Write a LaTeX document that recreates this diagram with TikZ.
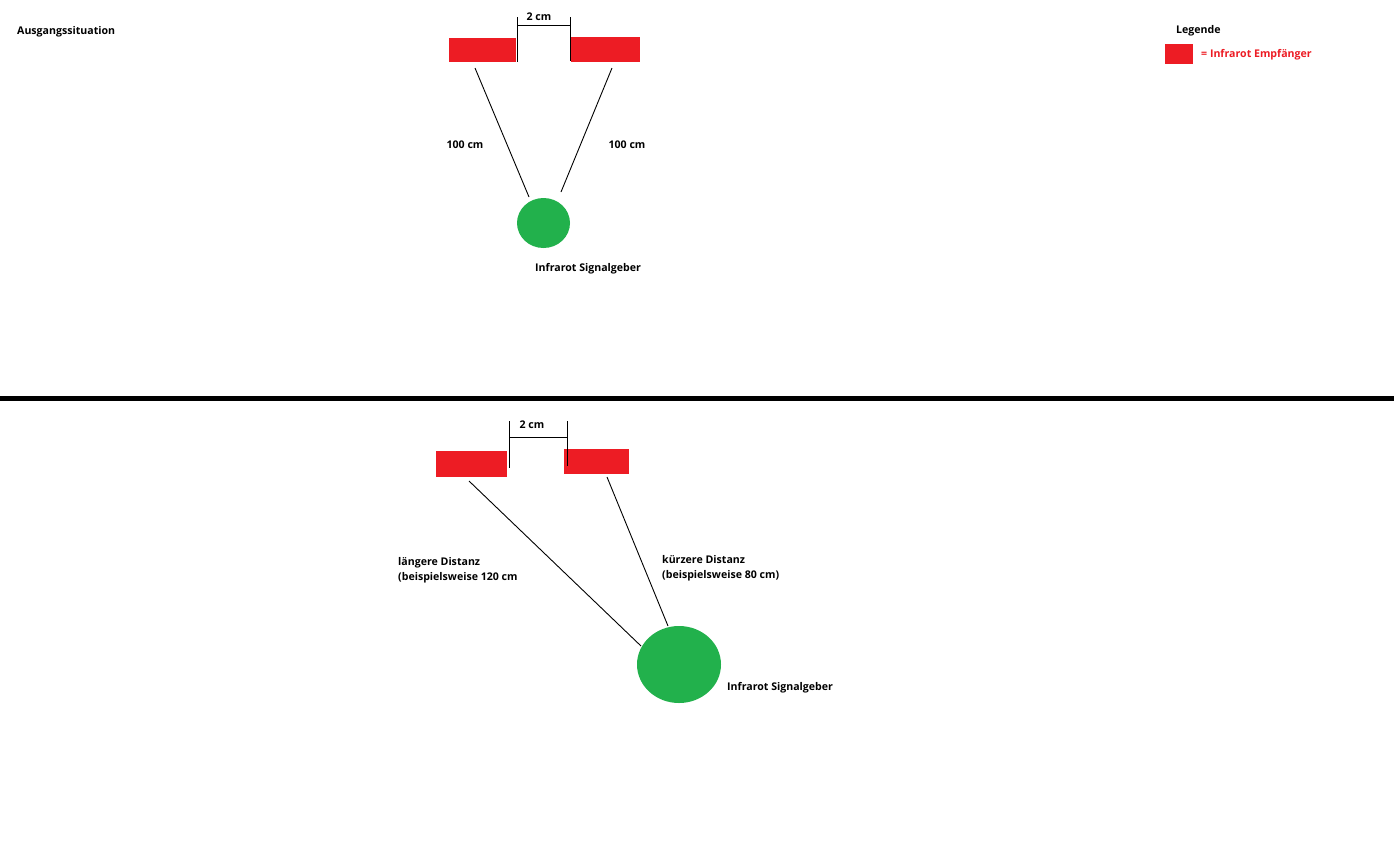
\documentclass[tikz,border=0pt]{standalone}
\usepackage{fontspec}
\setmainfont{Open Sans}
\usetikzlibrary{shapes.geometric}
\definecolor{pred}{HTML}{ED1C24}
\definecolor{pgreen}{HTML}{22B14C}
\tikzset{
  recv/.style={fill=pred, draw=none, inner sep=0, rectangle},
  sender/.style={fill=pgreen, draw=none, inner sep=0, ellipse},
  lbl/.style={inner sep=0, yshift=-1.5pt, font=\fontsize{10.6}{15}\selectfont\bfseries, text=black},
  conn/.style={draw=black, line width=0.9pt},
  dim/.style={draw=black, line width=1pt},
}
\begin{document}
\begin{tikzpicture}[x=1pt,y=-1pt]
\useasboundingbox (0,0) rectangle (1394,844);
\fill[white] (0,0) rectangle (1394,844);

% headings
\node[lbl, anchor=west] (title) at (17,30) {Ausgangssituation};
\node[lbl, anchor=west] (leg) at (1176,29) {Legende};
\node[recv, minimum width=28pt, minimum height=20pt] (legbox) at (1179,54) {};
\node[lbl, anchor=west, text=pred] (legtxt) at (1201,53) {= Infrarot Empfänger};

% ===== top scene =====
\node[recv, minimum width=67pt, minimum height=24pt] (tl) at (482.5,50) {};
\node[recv, minimum width=69pt, minimum height=25pt] (tr) at (605.5,49.5) {};
\node[sender, minimum width=53pt, minimum height=50pt] (ts) at (543.5,223) {};
\node[lbl, anchor=west] (tslbl) at (535,267) {Infrarot Signalgeber};

\coordinate (tdl1) at (517,17); \coordinate (tdl2) at (517,62);
\coordinate (tdr1) at (570,17); \coordinate (tdr2) at (570,61);
\coordinate (tdh1) at (517,25); \coordinate (tdh2) at (570,25);
\draw[dim] (tdl1) -- (tdl2);
\draw[dim] (tdr1) -- (tdr2);
\draw[dim] (tdh1) -- (tdh2);
\node[lbl] (tdim) at (539,15) {2 cm};

\coordinate (tla) at (475,68); \coordinate (tlb) at (529,197);
\coordinate (tra) at (612,68); \coordinate (trb) at (561,192);
\draw[conn] (tla) -- (tlb);
\draw[conn] (tra) -- (trb);
\node[lbl] (tld) at (465,143) {100 cm};
\node[lbl] (trd) at (627,143) {100 cm};

% separator
\coordinate (sepa) at (0,398); \coordinate (sepb) at (1394,398);
\draw[black, line width=5pt] (sepa) -- (sepb);

% ===== bottom scene =====
\node[recv, minimum width=71pt, minimum height=26pt] (bl) at (471.5,464) {};
\node[recv, minimum width=65pt, minimum height=25pt] (br) at (596.5,461.5) {};
\node[sender, minimum width=84pt, minimum height=77pt] (bs) at (679,664.5) {};
\node[lbl, anchor=west] (bslbl) at (727,686) {Infrarot Signalgeber};

\coordinate (bdl1) at (509,421); \coordinate (bdl2) at (509,468);
\coordinate (bdr1) at (567,421); \coordinate (bdr2) at (567,466);
\coordinate (bdh1) at (509,437); \coordinate (bdh2) at (567,437);
\draw[dim] (bdl1) -- (bdl2);
\draw[dim] (bdr1) -- (bdr2);
\draw[dim] (bdh1) -- (bdh2);
\node[lbl] (bdim) at (532,423) {2 cm};

\coordinate (bla) at (469,481); \coordinate (blb) at (641,646);
\coordinate (bra) at (607,477); \coordinate (brb) at (668,626);
\draw[conn] (bla) -- (blb);
\draw[conn] (bra) -- (brb);
\node[lbl, anchor=west, align=left] (bld) at (398,568.5) {längere Distanz\\(beispielsweise 120 cm};
\node[lbl, anchor=west, align=left] (brd) at (662,566.5) {kürzere Distanz\\(beispielsweise 80 cm)};
\end{tikzpicture}
\end{document}
